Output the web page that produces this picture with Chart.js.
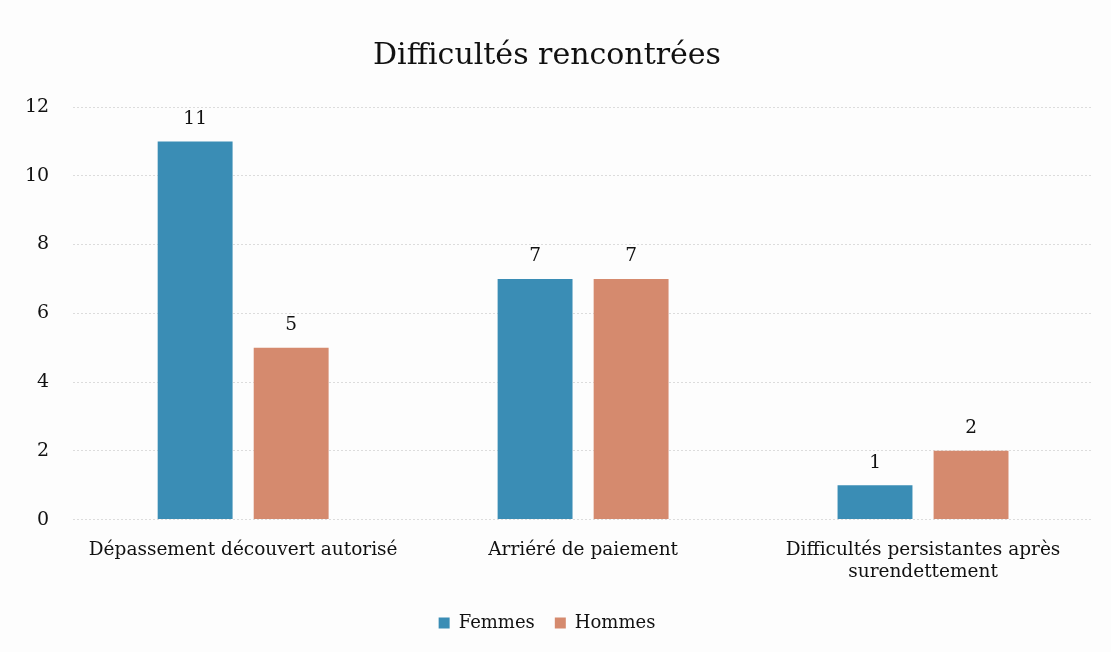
<!DOCTYPE html>
<html>
<head>
<meta charset="utf-8">
<script src="https://cdn.jsdelivr.net/npm/chart.js@4/dist/chart.umd.min.js"></script>
<style>
  html, body { margin: 0; padding: 0; background: #fdfdfd; }
  #wrap { width: 1111px; height: 652px; position: relative; }
</style>
</head>
<body>
<div id="wrap"><canvas id="difficultes"></canvas></div>
<script>
var categories = [
  "Dépassement découvert autorisé",
  "Arriéré de paiement",
  ["Difficultés persistantes après", "surendettement"]
];
var femmes = [11, 7, 1];
var hommes = [5, 7, 2];

var serif = "'DejaVu Serif', 'Liberation Serif', serif";

// labels above the bars
var valueLabels = {
  id: 'valueLabels',
  afterDatasetsDraw: function(chart) {
    var ctx = chart.ctx;
    ctx.save();
    ctx.font = "18.5px " + serif;
    ctx.fillStyle = "#111";
    ctx.textAlign = "center";
    ctx.textBaseline = "bottom";
    chart.data.datasets.forEach(function(ds, i) {
      chart.getDatasetMeta(i).data.forEach(function(bar, j) {
        ctx.fillText(ds.data[j], bar.x, bar.y - 13);
      });
    });
    ctx.restore();
  }
};

var ctx = document.getElementById('difficultes').getContext('2d');

var myBarChart = new Chart(ctx, {
  type: 'bar',
  data: {
    labels: categories,
    datasets: [
      {
        label: 'Femmes',
        backgroundColor: "#3a8db5",
        data: femmes,
        categoryPercentage: 0.565,
        barPercentage: 0.78
      },
      {
        label: 'Hommes',
        backgroundColor: "#d58a6e",
        data: hommes,
        categoryPercentage: 0.565,
        barPercentage: 0.78
      }
    ]
  },
  options: {
    responsive: true,
    maintainAspectRatio: false,
    animation: false,
    layout: { padding: { left: 1, right: 18, top: 28, bottom: 10 } },
    plugins: {
      title: {
        display: true,
        text: 'Difficultés rencontrées',
        color: '#111',
        font: { family: serif, size: 30, weight: 'normal' },
        padding: { top: 10, bottom: 33 }
      },
      legend: {
        position: 'bottom',
        labels: {
          color: '#111',
          font: { family: serif, size: 18 },
          boxWidth: 11,
          boxHeight: 11,
          padding: 20
        }
      },
      tooltip: { enabled: false }
    },
    scales: {
      x: {
        grid: { display: false },
        border: { display: false },
        ticks: { color: '#111', font: { family: serif, size: 18.5 }, maxRotation: 0, padding: 11 }
      },
      y: {
        min: 0,
        max: 12,
        ticks: { stepSize: 2, color: '#111', font: { family: serif, size: 19 }, padding: 24 },
        grid: { color: '#dcdcdc', drawTicks: false },
        border: { display: false, dash: [2, 2] }
      }
    }
  },
  plugins: [valueLabels]
});
</script>
</body>
</html>
